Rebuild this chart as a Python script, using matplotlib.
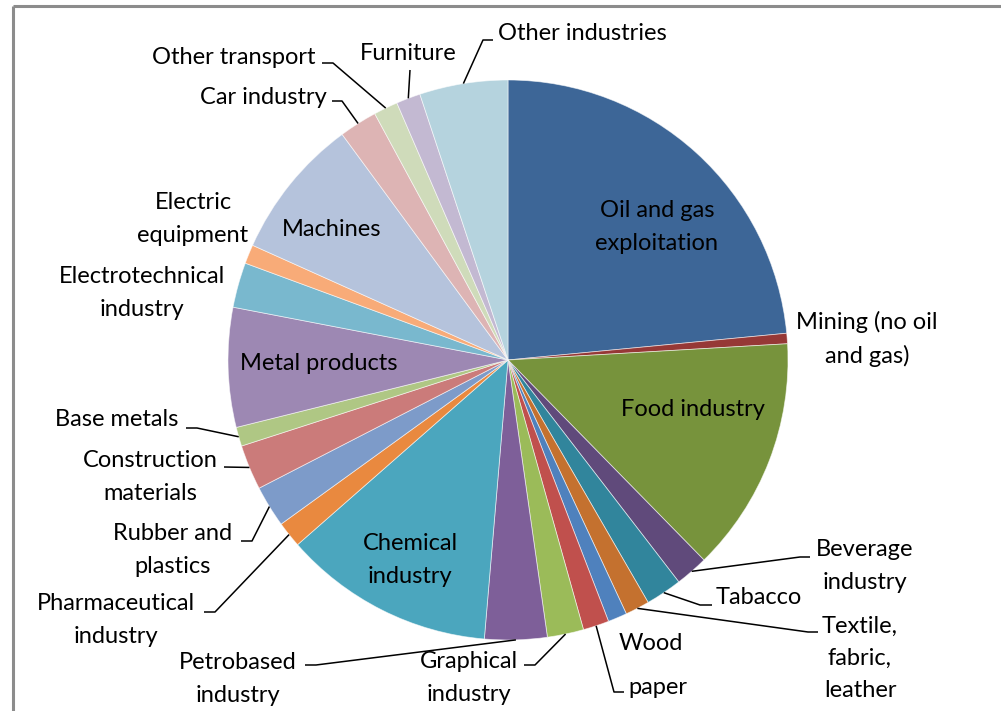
"""Pie chart: share of industry sectors (Excel-style, labels with leader lines)."""

import matplotlib
matplotlib.use("Agg")

import matplotlib.pyplot as plt
import numpy as np

plt.rcParams["font.family"] = ["Lato", "DejaVu Sans"]

# ---------------------------------------------------------------------------
# Data (percent)
# ---------------------------------------------------------------------------
categories = [
    "Oil and gas\nexploitation", "Mining (no oil\nand gas)", "Food industry",
    "Beverage\nindustry", "Tabacco", "Textile,\nfabric,\nleather", "Wood",
    "paper", "Graphical\nindustry", "Petrobased\nindustry", "Chemical\nindustry",
    "Pharmaceutical\nindustry", "Rubber and\nplastics", "Construction\nmaterials",
    "Base metals", "Metal products", "Electrotechnical\nindustry",
    "Electric\nequipment", "Machines", "Car industry", "Other transport",
    "Furniture", "Other industries",
]
shares = [
    23.5, 0.6, 13.6, 1.9, 2.1, 1.4, 1.1, 1.5, 2.1, 3.6, 12.2, 1.5, 2.4, 2.6,
    1.1, 6.9, 2.6, 1.1, 8.2, 2.2, 1.4, 1.4, 5.1,
]

colors = [
    "#3D6697", "#963836", "#77933C", "#604A7B", "#31859C", "#C4712F",
    "#4F81BD", "#C0504D", "#9BBB59", "#7E5F99", "#4BA6BE", "#E9893F",
    "#7D9BC9", "#CB7B7A", "#AFC784", "#9D88B3", "#79B8CE", "#F8AB78",
    "#B5C3DC", "#DDB4B4", "#CFDBBA", "#C3B9D2", "#B5D3DE",
]

# ---------------------------------------------------------------------------
# Label layout in pixel coordinates (x, y from top)
# (text x, text y, ha, leader elbow points or None)
# ---------------------------------------------------------------------------
W, H = 1001, 711
CX, CY, R = 508, 351, 280  # pie centre in data coords (y up)

layout = {
    0: (657, 227, "center", None),
    1: (867, 339, "center", None),
    2: (693, 410, "center", None),
    3: (865, 566, "center", [(800, 557), (810, 557)]),
    4: (716, 598, "left", [(700, 605), (712, 605)]),
    5: (860, 658, "center", [(808, 632), (818, 632)]),
    6: (651, 644, "center", None),
    7: (628, 688, "left", [(614, 692), (624, 692)]),
    8: (469, 678, "center", [(535, 665), (524, 665)]),
    9: (238, 679, "center", [(316, 665), (305, 665)]),
    10: (410, 560, "center", None),
    11: (116, 620, "center", [(215, 612), (204, 612)]),
    12: (173, 550, "center", [(252, 541), (241, 541)]),
    13: (150, 477, "center", [(224, 467)]),
    14: (117, 419, "center", [(197, 428), (186, 428)]),
    15: (319, 363, "center", None),
    16: (142, 293, "center", None),
    17: (193, 219, "center", None),
    18: (332, 229, "center", None),
    19: (263, 97, "center", [(342, 101), (332, 101)]),
    20: (234, 57, "center", [(333, 63), (322, 63)]),
    21: (408, 53, "center", [(410, 70)]),
    22: (582, 33, "center", [(483, 40), (493, 40)]),
}


def to_data(px, py):
    return px, H - py


fig = plt.figure(figsize=(W / 100, H / 100), dpi=100)
ax = fig.add_axes([0, 0, 1, 1])

wedges, _ = ax.pie(
    shares,
    colors=colors,
    startangle=90,
    counterclock=False,
    center=(CX, CY),
    radius=R,
    wedgeprops=dict(edgecolor=(1, 1, 1, 0.6), linewidth=0.6),
    frame=True,
)
ax.set_xlim(0, W)
ax.set_ylim(0, H)
ax.axis("off")

FS = 17
for i, (w, name) in enumerate(zip(wedges, categories)):
    tx, ty, ha, elbow = layout[i]
    x, y = to_data(tx, ty)
    ax.text(x, y, name, ha=ha, va="center", fontsize=FS, color="black",
            linespacing=1.65, multialignment="center")
    if elbow:
        mid = np.deg2rad((w.theta1 + w.theta2) / 2)
        anchor = (CX + R * np.cos(mid), CY + R * np.sin(mid))
        pts = [anchor] + [to_data(px, py) for px, py in elbow]
        xs, ys = zip(*pts)
        ax.plot(xs, ys, color="black", lw=1.1, solid_capstyle="butt")

# Cropped chart-area frame (only left and top edges visible)
ax.plot([12.5, 12.5], [0, H - 6], color="#8c8c8c", lw=2.2, solid_capstyle="butt")
ax.plot([12.5, W], [H - 6, H - 6], color="#8c8c8c", lw=2.2, solid_capstyle="butt")

fig.savefig("out.png", dpi=100)
